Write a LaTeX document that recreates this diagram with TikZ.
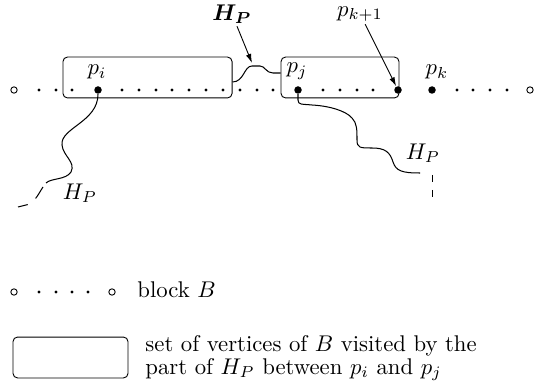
\documentclass[tikz,border=0pt]{standalone}
\usepackage{amsmath,amssymb,bm}
\usetikzlibrary{arrows.meta,positioning,calc}

\begin{document}
\begin{tikzpicture}[
    x=0.44pt, y=-0.44pt,
    vdot/.style={circle, fill, inner sep=0pt, minimum size=1.5pt},
    bigdot/.style={circle, fill, inner sep=0pt, minimum size=3.3pt},
    enddot/.style={circle, draw, fill=white, inner sep=0pt, minimum size=2.8pt},
    setbox/.style={rectangle, draw, rounded corners=2pt, minimum height=18pt},
    lbl/.style={inner sep=1pt},
    arrow/.style={-{Latex[length=4pt,width=2.4pt]}},
    pathpart/.style={line width=0.45pt}
]
\useasboundingbox (0,0) rectangle (534,388);

% the sets of visited vertices
\node[setbox, minimum width=74.4pt] (B1) at (147.5,77.5) {};
\node[setbox, minimum width=51.9pt] (B2) at (340,77.5) {};

% block B with its vertices
\node[enddot] (bl) at (14,90) {};
\node[enddot] (br) at (530,90) {};
\foreach \x in {39,56,72,122,139,156,172,189,206,223,240,257,273,
                323,340,357,373,457,473,490,507}
  \node[vdot] (d\x) at (\x,90) {};
\node[bigdot] (pi) at (98,90) {};
\node[bigdot] (pj) at (298,90) {};
\node[bigdot] (pk1) at (398,90) {};
\node[bigdot] (pk) at (432,90) {};

\node[lbl] (lpi) at (97,72) {$p_i$};
\node[lbl] (lpj) at (297,71) {$p_j$};
\node[lbl] (lpk) at (437,72) {$p_k$};
\node[lbl] (lpk1) at (360,14) {$p_{k+1}$};
\node[lbl] (lhtop) at (232,14) {$\bm{H_P}$};
\node[lbl] (lhl) at (80,193) {$H_P$};
\node[lbl] (lhr) at (423,153) {$H_P$};

% pieces of H_P
\coordinate (hit) at (252,63);
\draw[pathpart] ($(B1.east)+(0,4.5)$) .. controls (244,82) and (244,66) .. (252,66)
    -- (260,66) .. controls (265,66) and (266,73) .. (273,73) -- ($(B2.west)+(0,-4.5)$);
\draw[pathpart] (pi) .. controls (98,122) and (60,128) .. (62,145)
    .. controls (63,156) and (76,162) .. (71,172)
    .. controls (66,180) and (51,178) .. (46,183) coordinate (lend);
\draw[pathpart, dash pattern=on 6pt off 4.5pt, dash phase=8.3pt]
    (lend) .. controls (40,190) and (38,198) .. (30,204) -- (18,207);
\draw[pathpart] (pj) -- (298,100) .. controls (298,105) and (302,104) .. (312,105)
    .. controls (330,106) and (346,111) .. (352,118)
    .. controls (357,123) and (357,130) .. (357,140)
    .. controls (357,148) and (360,148) .. (372,148)
    .. controls (385,148) and (390,152) .. (393,162)
    .. controls (396,171) and (402,173) .. (420,173);
\coordinate (rtop) at (432,175);
\coordinate (rbot) at (432,198);
\draw[pathpart, dash pattern=on 3.2pt off 3.4pt] (rtop) -- (rbot);

\draw[arrow] (lhtop) -- (hit);
\draw[arrow] (lpk1) -- (pk1);

% legend
\node[enddot] (lgl) at (14,292) {};
\foreach \x in {39,56,72,88}
  \node[vdot] (g\x) at (\x,292) {};
\node[enddot] (lgr) at (112,292) {};
\node[anchor=base west, inner sep=0pt] (lblock) at (137,297) {block $B$};

\node[setbox, minimum width=50.6pt] (lgbox) at (70.5,357.5) {};
\node[anchor=west, align=left, inner sep=0pt,
      font=\fontsize{10}{10.2}\selectfont] (lgtext) at (145,358)
    {set of vertices of $B$ visited by the\\ part of $H_P$ between $p_i$ and $p_j$};
\end{tikzpicture}
\end{document}
